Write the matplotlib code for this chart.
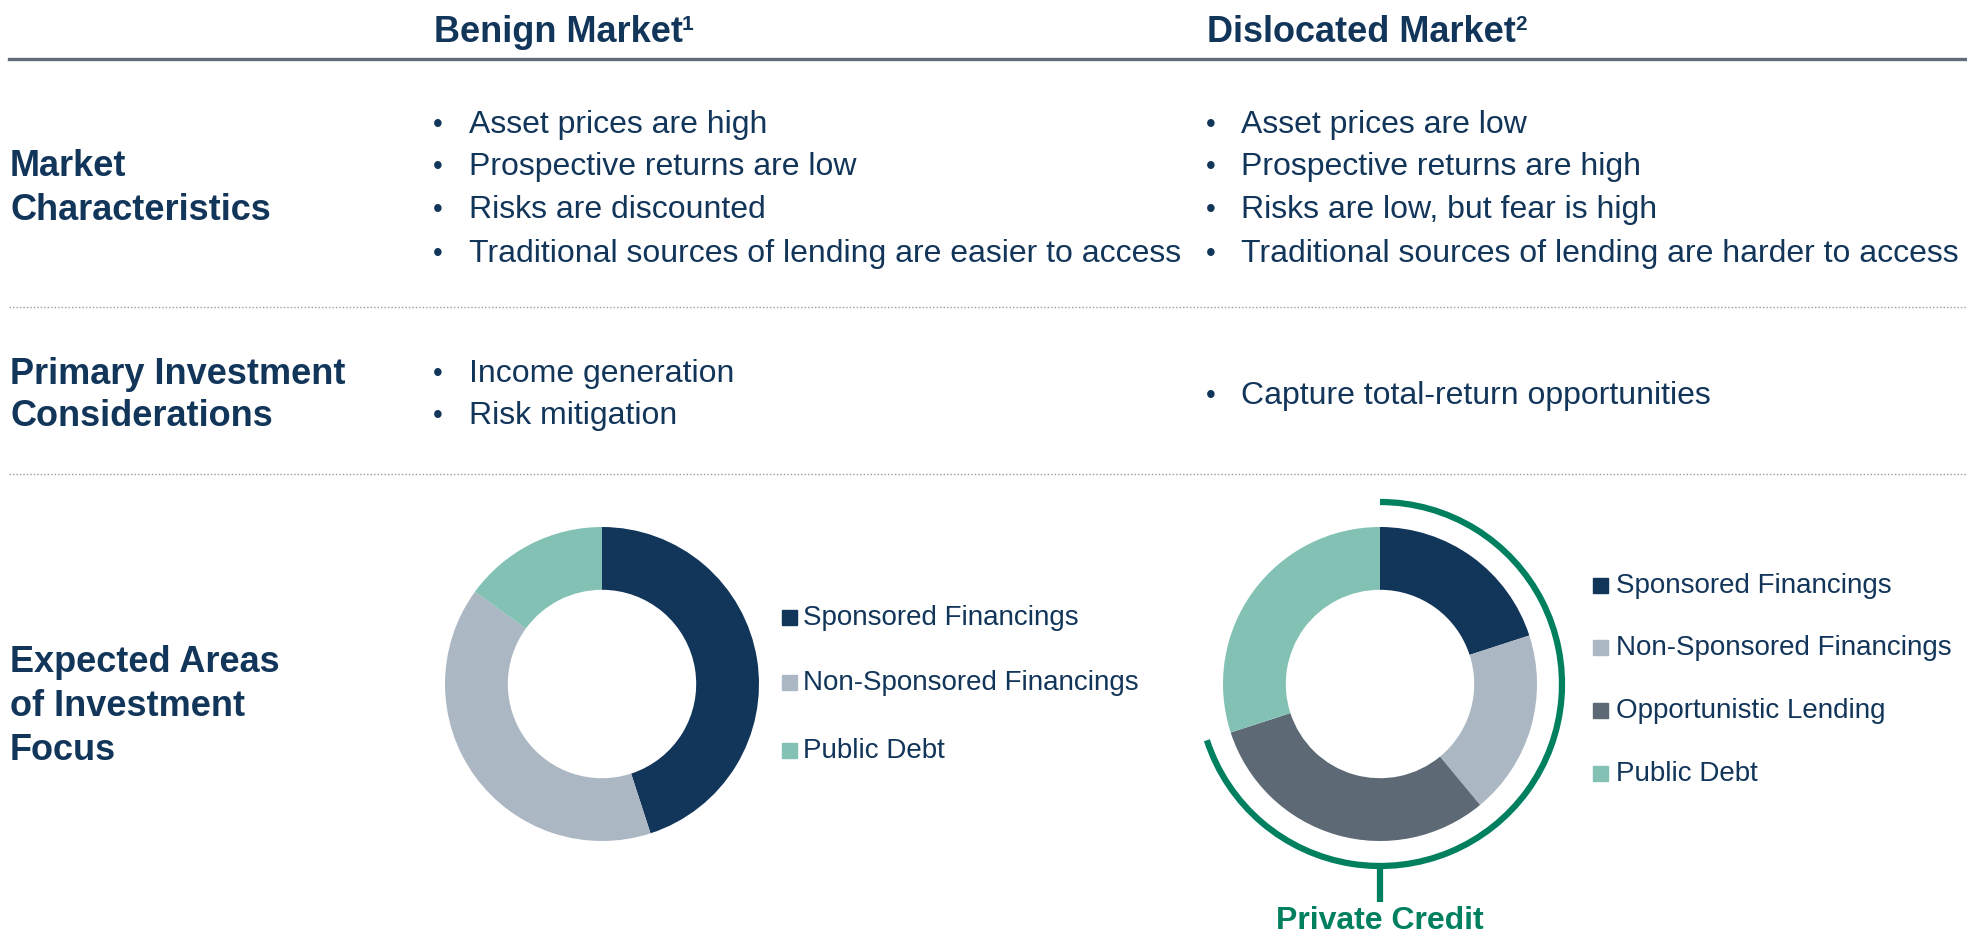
import matplotlib
matplotlib.use('Agg')
import matplotlib.pyplot as plt
from matplotlib.patches import Arc, Rectangle
from matplotlib.lines import Line2D

plt.rcParams['font.family'] = ['Liberation Sans', 'DejaVu Sans']

# data
columns = ['Benign Market', 'Dislocated Market']
column_notes = ['1', '2']
row_labels = [['Market', 'Characteristics'],
              ['Primary Investment', 'Considerations'],
              ['Expected Areas', 'of Investment', 'Focus']]
benign_chars = ['Asset prices are high', 'Prospective returns are low',
                'Risks are discounted',
                'Traditional sources of lending are easier to access']
dislocated_chars = ['Asset prices are low', 'Prospective returns are high',
                    'Risks are low, but fear is high',
                    'Traditional sources of lending are harder to access']
benign_considerations = ['Income generation', 'Risk mitigation']
dislocated_considerations = ['Capture total-return opportunities']

benign_labels = ['Sponsored Financings', 'Non-Sponsored Financings', 'Public Debt']
benign_shares = [45, 40, 15]
dislocated_labels = ['Sponsored Financings', 'Non-Sponsored Financings',
                     'Opportunistic Lending', 'Public Debt']
dislocated_shares = [20, 19, 31, 30]
private_credit_label = 'Private Credit'

NAVY = '#12355a'
colors = {'Sponsored Financings': '#12355a',
          'Non-Sponsored Financings': '#abb7c3',
          'Opportunistic Lending': '#5d6975',
          'Public Debt': '#82c1b4'}
GREEN = '#00805f'

W, H = 1967, 934
fig = plt.figure(figsize=(W / 100, H / 100), dpi=100)


def fx(x):
    return x / W


def fy(y):
    return 1 - y / H


# column headers with superscript notes
renderer = fig.canvas.get_renderer()
for x, name, note in zip([434, 1207], columns, column_notes):
    t = fig.text(fx(x), fy(33), name, fontsize=26, fontweight='bold',
                 color=NAVY, va='center', ha='left')
    bb = t.get_window_extent(renderer)
    fig.text(bb.x1 / W - 0.0005, fy(24), note, fontsize=15, fontweight='bold',
             color=NAVY, va='center', ha='left')

# header rule and dotted separators
fig.add_artist(Line2D([fx(9), 1], [fy(59), fy(59)], color='#5f6b78', lw=2.4))
for y in [307, 474]:
    fig.add_artist(Line2D([fx(9), 1], [fy(y), fy(y)], color='#9a9a9a',
                          lw=1.0, ls=(0, (1, 1.5))))

# row labels
label_ys = [[167, 211], [374, 416], [662, 707, 751]]
for lines, ys in zip(row_labels, label_ys):
    for txt, y in zip(lines, ys):
        fig.text(fx(10), fy(y), txt, fontsize=26, fontweight='bold',
                 color=NAVY, va='center', ha='left')


def bullets(items, ys, x_bullet, x_text):
    for txt, y in zip(items, ys):
        fig.text(fx(x_bullet), fy(y), '•', fontsize=20, color=NAVY,
                 va='center', ha='center')
        fig.text(fx(x_text), fy(y), txt, fontsize=23, color=NAVY,
                 va='center', ha='left')


bullets(benign_chars, [125, 167, 210, 254], 438, 469)
bullets(dislocated_chars, [125, 167, 210, 254], 1211, 1241)
bullets(benign_considerations, [374, 416], 438, 469)
bullets(dislocated_considerations, [396], 1211, 1241)

# donuts
R_PX = 157
BOX = 420


def donut(cx, cy, labels, shares):
    ax = fig.add_axes([fx(cx - BOX / 2), fy(cy + BOX / 2), BOX / W, BOX / H])
    ax.pie(shares, colors=[colors[l] for l in labels], startangle=90,
           counterclock=False, radius=1.0,
           wedgeprops=dict(width=0.4, linewidth=0))
    lim = BOX / 2 / R_PX
    ax.set_xlim(-lim, lim)
    ax.set_ylim(-lim, lim)
    ax.set_aspect('equal')
    ax.axis('off')
    return ax


def legend(labels, x_sq, x_txt, ys):
    for lab, y in zip(labels, ys):
        fig.add_artist(Rectangle((fx(x_sq), fy(y + 7.5)), 15 / W, 15 / H,
                                 color=colors[lab], transform=fig.transFigure))
        fig.text(fx(x_txt), fy(y + 1), lab, fontsize=20, color=NAVY,
                 va='center', ha='left')


donut(602, 684, benign_labels, benign_shares)
legend(benign_labels, 782, 803, [617, 682, 750])

ax2 = donut(1380, 684, dislocated_labels, dislocated_shares)
legend(dislocated_labels, 1593, 1616, [585, 647, 710, 773])

# private credit bracket around the first three slices
r_arc = 182 / R_PX
span = 360 * sum(dislocated_shares[:3]) / sum(dislocated_shares)
ax2.add_patch(Arc((0, 0), 2 * r_arc, 2 * r_arc, theta1=90 - span, theta2=90,
                  color=GREEN, lw=4.5, clip_on=False))
ax2.plot([0, 0], [-r_arc, -r_arc - 36 / R_PX], color=GREEN, lw=4.5,
         solid_capstyle='butt', clip_on=False)
fig.text(fx(1380), fy(921), private_credit_label, fontsize=23,
         fontweight='bold', color=GREEN, va='center', ha='center')

fig.savefig('out.png', dpi=100)
